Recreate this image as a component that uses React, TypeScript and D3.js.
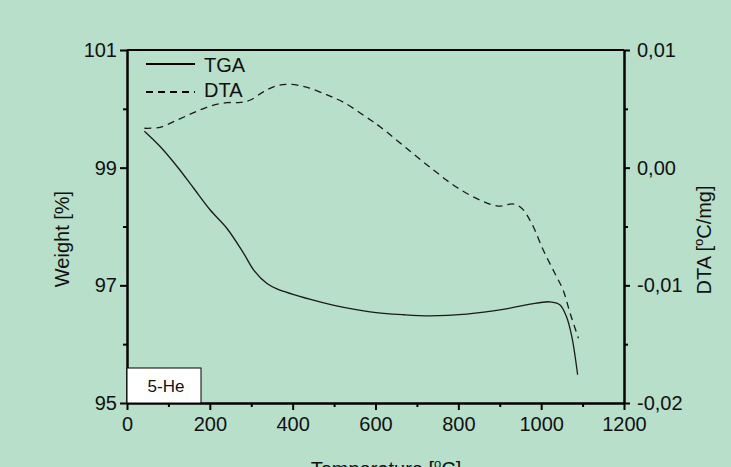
import React, { useEffect, useRef } from 'react';
import * as d3 from 'd3';

// readings taken from the plot
const tgaTemp = [42, 80, 121, 161, 201, 241, 282, 306, 338, 362, 443, 500, 587, 667, 731, 820, 908, 973, 1021, 1045, 1061, 1074, 1082, 1088];
const tgaWeight = [99.62, 99.36, 99.02, 98.65, 98.28, 97.97, 97.54, 97.26, 97.03, 96.94, 96.76, 96.66, 96.55, 96.5, 96.48, 96.51, 96.59, 96.68, 96.72, 96.67, 96.47, 96.13, 95.79, 95.48];

const dtaTemp = [42, 80, 121, 161, 201, 241, 274, 298, 330, 362, 394, 435, 483, 523, 588, 611, 675, 740, 796, 852, 896, 933, 953, 977, 1005, 1033, 1053, 1070, 1090];
const dtaValue = [0.00335, 0.00343, 0.00405, 0.00467, 0.00524, 0.00552, 0.00555, 0.00575, 0.00646, 0.00697, 0.00708, 0.00683, 0.00618, 0.00555, 0.00405, 0.00348, 0.00164, -0.0002, -0.00167, -0.00275, -0.00326, -0.00309, -0.00345, -0.00473, -0.007, -0.00898, -0.0104, -0.01238, -0.0145];

const xTicks = [0, 200, 400, 600, 800, 1000, 1200];
const xMinor = [100, 300, 500, 700, 900, 1100];
const leftTicks = [95, 97, 99, 101];
const leftMinor = [96, 98, 100];
const rightTicks = [-0.02, -0.01, 0, 0.01];
const rightMinor = [-0.015, -0.005, 0.005];

const W = 731;
const H = 467;
const FONT = '"Liberation Sans", Arial, sans-serif';

export default function App() {
  const ref = useRef<SVGSVGElement>(null);

  useEffect(() => {
    const svg = d3.select(ref.current);
    svg.selectAll('*').remove();

    const left = 127, right = 624, top = 50, bottom = 403;

    const x = d3.scaleLinear().domain([0, 1200]).range([left, right]);
    const yL = d3.scaleLinear().domain([95, 101]).range([bottom, top]);
    const yR = d3.scaleLinear().domain([-0.02, 0.01]).range([bottom, top]);

    const comma = d3.formatLocale({ decimal: ',', thousands: '.', grouping: [3], currency: ['', ''], minus: '-' }).format('.2f');

    svg.append('rect').attr('width', W).attr('height', H).attr('fill', '#b8dfc9');

    const styleAxis = (g: any) => {
      g.attr('font-size', 20).attr('font-family', FONT);
      g.select('.domain').attr('stroke-width', 2).attr('stroke', '#000');
      g.selectAll('.tick line').attr('stroke-width', 2).attr('stroke', '#000');
      g.selectAll('.tick text').attr('fill', '#111');
    };

    // top frame line
    svg.append('line')
      .attr('x1', left).attr('x2', right).attr('y1', top).attr('y2', top)
      .attr('stroke', '#000').attr('stroke-width', 2);

    // minor ticks first
    svg.append('g').attr('transform', `translate(0,${bottom})`)
      .call(d3.axisBottom(x).tickValues(xMinor).tickSize(4).tickSizeOuter(0).tickFormat(() => ''))
      .call(styleAxis);
    svg.append('g').attr('transform', `translate(${left},0)`)
      .call(d3.axisLeft(yL).tickValues(leftMinor).tickSize(4).tickSizeOuter(0).tickFormat(() => ''))
      .call(styleAxis);
    svg.append('g').attr('transform', `translate(${right},0)`)
      .call(d3.axisRight(yR).tickValues(rightMinor).tickSize(4).tickSizeOuter(0).tickFormat(() => ''))
      .call(styleAxis);

    svg.append('g').attr('transform', `translate(0,${bottom})`)
      .call(d3.axisBottom(x).tickValues(xTicks).tickSize(7).tickPadding(7).tickSizeOuter(0).tickFormat(d3.format('d')))
      .call(styleAxis);
    svg.append('g').attr('transform', `translate(${left},0)`)
      .call(d3.axisLeft(yL).tickValues(leftTicks).tickSize(7).tickPadding(3).tickSizeOuter(0).tickFormat(d3.format('d')))
      .call(styleAxis);
    svg.append('g').attr('transform', `translate(${right},0)`)
      .call(d3.axisRight(yR).tickValues(rightTicks).tickSize(6).tickPadding(7).tickSizeOuter(0).tickFormat((d: any) => comma(d)))
      .call(styleAxis);

    // curves
    const tga = tgaTemp.map((t, i) => [t, tgaWeight[i]]);
    const dta = dtaTemp.map((t, i) => [t, dtaValue[i]]);

    svg.append('path')
      .datum(tga)
      .attr('fill', 'none')
      .attr('stroke', '#1a1a1a')
      .attr('stroke-width', 1.3)
      .attr('d', d3.line().x((d: any) => x(d[0])).y((d: any) => yL(d[1])).curve(d3.curveCatmullRom) as any);

    svg.append('path')
      .datum(dta)
      .attr('fill', 'none')
      .attr('stroke', '#1a1a1a')
      .attr('stroke-width', 1.3)
      .attr('stroke-dasharray', '7,5')
      .attr('d', d3.line().x((d: any) => x(d[0])).y((d: any) => yR(d[1])).curve(d3.curveCatmullRom) as any);

    // legend
    const legend = svg.append('g').attr('font-family', FONT).attr('font-size', 20).attr('fill', '#111');
    legend.append('line').attr('x1', 146).attr('x2', 195).attr('y1', 64).attr('y2', 64)
      .attr('stroke', '#000').attr('stroke-width', 1.8);
    legend.append('text').attr('x', 204).attr('y', 71.5).text('TGA');
    legend.append('line').attr('x1', 146).attr('x2', 195).attr('y1', 92).attr('y2', 92)
      .attr('stroke', '#000').attr('stroke-width', 1.8).attr('stroke-dasharray', '7,5');
    legend.append('text').attr('x', 204).attr('y', 97).text('DTA');

    // sample label box
    svg.append('rect').attr('x', left).attr('y', 368).attr('width', 74).attr('height', bottom - 368)
      .attr('fill', '#fff').attr('stroke', '#000').attr('stroke-width', 1);
    svg.append('text').attr('x', 166).attr('y', 392).attr('text-anchor', 'middle')
      .attr('font-family', FONT).attr('font-size', 17).attr('fill', '#111').text('5-He');

    // axis titles
    svg.append('text')
      .attr('transform', 'translate(69,239) rotate(-90)')
      .attr('text-anchor', 'middle')
      .attr('font-family', FONT).attr('font-size', 20).attr('fill', '#111')
      .text('Weight [%]');

    const rt = svg.append('text')
      .attr('transform', 'translate(711,240) rotate(-90)')
      .attr('text-anchor', 'middle')
      .attr('font-family', FONT).attr('font-size', 20).attr('fill', '#111');
    rt.append('tspan').text('DTA [');
    rt.append('tspan').attr('font-size', 13).attr('dy', -8).text('o');
    rt.append('tspan').attr('dy', 8).text('C/mg]');

    const bt = svg.append('text')
      .attr('x', 386).attr('y', 476)
      .attr('text-anchor', 'middle')
      .attr('font-family', FONT).attr('font-size', 20).attr('fill', '#111');
    bt.append('tspan').text('Temperature [');
    bt.append('tspan').attr('font-size', 13).attr('dy', -8).text('o');
    bt.append('tspan').attr('dy', 8).text('C]');
  }, []);

  return (
    <svg ref={ref} width={W} height={H} style={{ position: 'fixed', top: 0, left: 0, display: 'block' }} />
  );
}
